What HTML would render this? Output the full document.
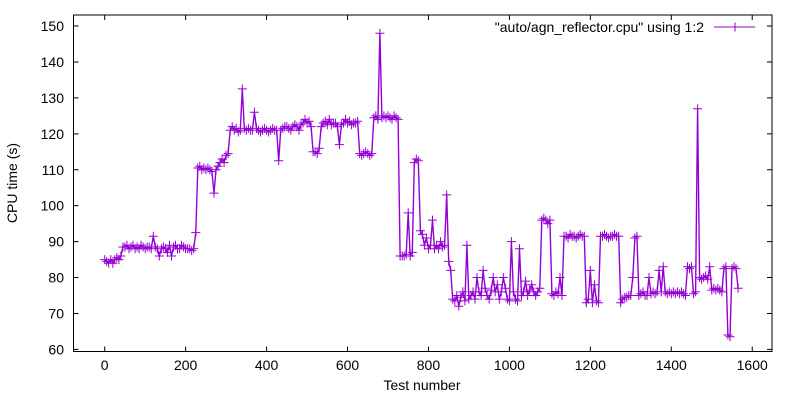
<!DOCTYPE html>
<html><head><meta charset="utf-8"><style>
body{margin:0;background:#fff;}
svg{display:block;font-family:"Liberation Sans",sans-serif;}
</style></head><body>
<svg id="chart" width="800" height="400" viewBox="0 0 800 400" xmlns="http://www.w3.org/2000/svg">
<g id="axes"></g>
<g id="series"></g>
<g id="legend">
<text x="704" y="32" font-size="14" text-anchor="end" fill="#000">"auto/agn_reflector.cpu" using 1:2</text>
<line x1="714" y1="27" x2="755" y2="27" stroke="#9400d3" stroke-width="1"/>
<path d="M730.5 27h9M735 22.5v9" stroke="#9400d3" stroke-width="1"/>
</g>
<text x="422" y="390" font-size="14" text-anchor="middle">Test number</text>
<text x="17" y="183" font-size="14" text-anchor="middle" transform="rotate(-90 17 183)">CPU time (s)</text>
</svg>
<script>
const xTicks=[0,200,400,600,800,1000,1200,1400,1600];
const yTicks=[60,70,80,90,100,110,120,130,140,150];
const testStep=5;
const cpuTimes=[
85,84.5,84,85,84,85,85.5,85,86,88.5,
88.5,89,88,88.5,89,88,88.5,88,89,88.5,
88,88.5,88.5,88,91.5,88.5,88,86,88,88.5,
88,87,89,86,88.5,89,88,88,89,88.5,
88,88,88,87.5,88,92.5,110.5,111,110,110.5,
110,110.5,110,109.5,103.5,110,111,112,113,112,
114,114.5,121,122,121,121.5,120.5,121,132.5,121.5,
121,121.5,121,121,126,121.5,121,120.5,121,121.5,
121,120.5,121,121.5,121,121,112.5,121,121.5,122,
122,121.5,121,122,122.5,122,121,122.5,123,124,
123,123.5,122,115,115,114.5,116,122,123,123.5,
122.5,124,122.5,123,123,122,117,122.5,123,124,
123,123.5,122.5,123,123,123.5,114.5,114,114.5,115,
114.5,114,114.5,124.5,125,124,148,124.5,125,124.5,
125,124.5,124,125,124.5,124,86,86,86,86.5,
98,86,87,112,113,112.5,93,92,89,91,
88,89,96,88,89,88,90,88.5,89,103,
84.5,82,74,73.5,75,72,74.5,76,73.5,89,
74,75,76,74,80,76,75,82,77,75,
74,76.5,80,76,78,74,76,80,77,74,
73.5,90,76,74,73.5,88,75,76,79,75,
76.5,78,76,75,76,77,96,96.5,96,95,
96,75.5,75,76,75.5,80,75,91.5,91.5,91,
92,91.5,91.5,91,91.5,92,91.5,91.5,73,74,
82,73,78,73.5,73,91.5,91.5,92,91.5,91,
91.5,91.5,92,91.5,91.5,73,74,74.5,74.5,75,
75,80,91,91.5,75,75.5,76,75,75,80,
75.5,76,75.5,76,82,76,83,76,75.5,76,
75.5,76,75.5,76,75.5,76,75.5,75,83,82.5,
83,75.5,76,127,80,79.5,80,80.5,79.5,83,
76.5,77,76.5,77,76.5,76,82.5,83,64,63.5,
82.5,83,82.5,77
];
const NS="http://www.w3.org/2000/svg";
const L=73.5,R=772,T=15,B=351.5;
function xs(v){return 104.7+v*0.4047;}
function ys(v){return 349.4-(v-60)*3.593;}
const ax=document.getElementById('axes');
function mk(tag,attrs,parent){const e=document.createElementNS(NS,tag);for(const k in attrs)e.setAttribute(k,attrs[k]);parent.appendChild(e);return e;}
const frame=mk('rect',{x:L,y:T,width:R-L,height:B-T,fill:'none',stroke:'#000','stroke-width':1},ax);


xTicks.forEach(v=>{const x=xs(v);
 const t=mk('path',{d:`M${x} ${B}v-5M${x} ${T}v5`,stroke:'#000','stroke-width':1},ax);
 
 
 const l=mk('text',{x:x,y:370,'font-size':14,'text-anchor':'middle'},ax);l.textContent=v;
 
 
});
yTicks.forEach(v=>{const y=ys(v);
 const t=mk('path',{d:`M${L} ${y}h5M${R} ${y}h-5`,stroke:'#000','stroke-width':1},ax);
 
 
 const l=mk('text',{x:64,y:y+5,'font-size':14,'text-anchor':'end'},ax);l.textContent=v;
 
 
});
const sg=document.getElementById('series');
let d='';cpuTimes.forEach((v,i)=>{d+=(i?'L':'M')+xs(i*testStep).toFixed(1)+' '+ys(v).toFixed(1);});
const line=mk('path',{d:d,fill:'none',stroke:'#9400d3','stroke-width':1.4},sg);


let md='';cpuTimes.forEach((v,i)=>{const x=xs(i*testStep),y=ys(v);md+=`M${(x-4.5).toFixed(1)} ${y.toFixed(1)}h9M${x.toFixed(1)} ${(y-4.5).toFixed(1)}v9`;});
const marks=mk('path',{d:md,fill:'none',stroke:'#9400d3','stroke-width':1},sg);


</script>
</body></html>
